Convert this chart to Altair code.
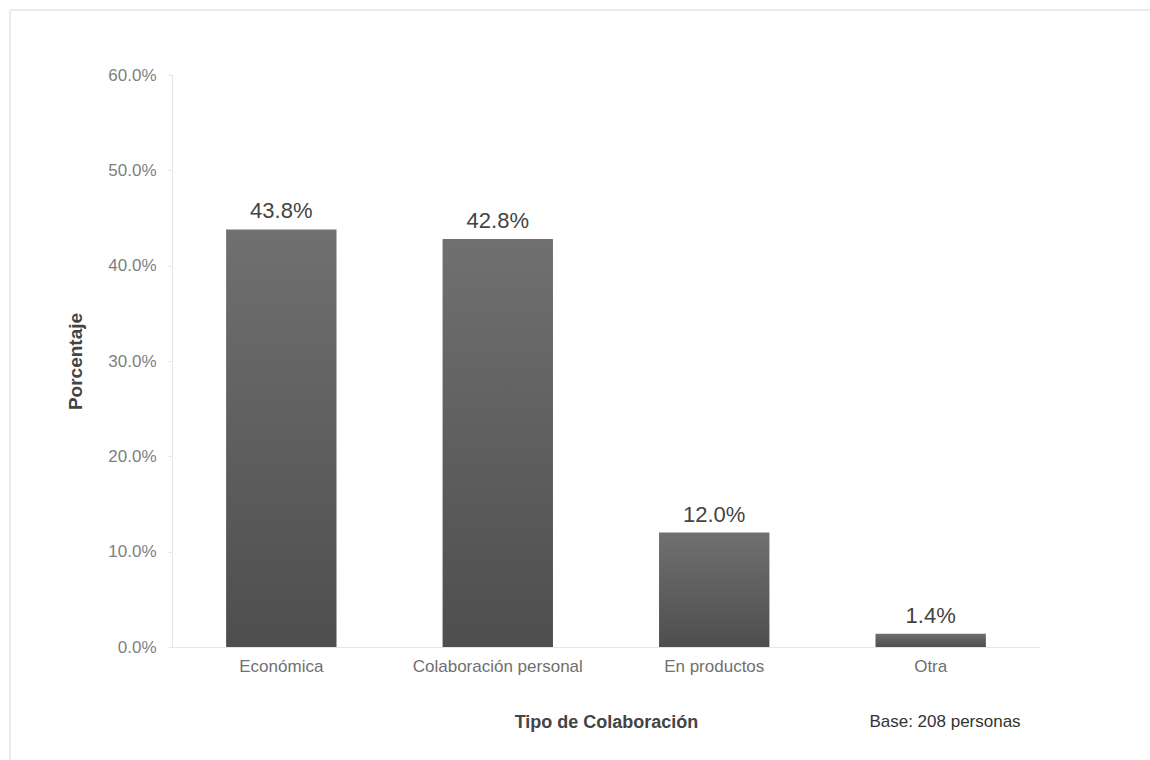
import altair as alt
import pandas as pd

categorias = ["Económica", "Colaboración personal", "En productos", "Otra"]
porcentajes = [0.438, 0.428, 0.120, 0.014]
nota = "Base: 208 personas"

df = pd.DataFrame({"tipo": categorias, "pct": porcentajes})

FONT = "Liberation Sans"

x_enc = alt.X(
    "tipo:N",
    sort=categorias,
    scale=alt.Scale(paddingInner=0.49, paddingOuter=0.25),
    axis=alt.Axis(
        title="Tipo de Colaboración",
        labelAngle=0,
        labelFontSize=17,
        labelColor="#707070",
        labelPadding=11,
        ticks=False,
        domainColor="#e6e6e6",
        titleFontSize=18,
        titleFontWeight="bold",
        titleColor="#444444",
        titlePadding=39,
    ),
)
y_enc = alt.Y(
    "pct:Q",
    scale=alt.Scale(domain=[0, 0.6]),
    axis=alt.Axis(
        title="Porcentaje",
        format=".1%",
        values=[0, 0.1, 0.2, 0.3, 0.4, 0.5, 0.6],
        grid=False,
        labelFontSize=17,
        labelColor="#808080",
        labelPadding=12,
        tickSize=4,
        tickColor="#e6e6e6",
        domainColor="#e6e6e6",
        titleFontSize=19,
        titleFontWeight="bold",
        titleColor="#444444",
        titlePadding=22,
    ),
)

bars = alt.Chart(df).mark_bar(
    color=alt.Gradient(
        gradient="linear",
        stops=[
            alt.GradientStop(color="#707070", offset=0),
            alt.GradientStop(color="#4e4e4e", offset=1),
        ],
        x1=0, x2=0, y1=0, y2=1,
    )
).encode(x=x_enc, y=y_enc)

labels = alt.Chart(df).mark_text(
    dy=-18, fontSize=22, color="#444444", font=FONT
).encode(x=alt.X("tipo:N", sort=categorias), y="pct:Q", text=alt.Text("pct:Q", format=".1%"))

base_note = alt.Chart(pd.DataFrame({"t": [nota]})).mark_text(
    fontSize=17, color="#333333", font=FONT, align="center", baseline="middle"
).encode(x=alt.value(773), y=alt.value(647), text="t:N")

frame_top = alt.Chart(pd.DataFrame({"t": [0]})).mark_rule(color="#e4e4e4", strokeWidth=1.5).encode(
    x=alt.value(-162), x2=alt.value(990), y=alt.value(-65)
)
frame_left = alt.Chart(pd.DataFrame({"t": [0]})).mark_rule(color="#e4e4e4", strokeWidth=1.5).encode(
    x=alt.value(-162), y=alt.value(-65), y2=alt.value(700)
)

chart = (
    alt.layer(frame_top, frame_left, bars, labels, base_note)
    .properties(
        width=868,
        height=572,
        autosize=alt.AutoSizeParams(type="none"),
        padding={"left": 172, "top": 75, "right": 110, "bottom": 113},
        background="white",
    )
    .configure(font=FONT)
    .configure_view(strokeWidth=0, stroke="transparent")
)

chart.save("out.html", embed_options={"renderer": "svg", "actions": False})
